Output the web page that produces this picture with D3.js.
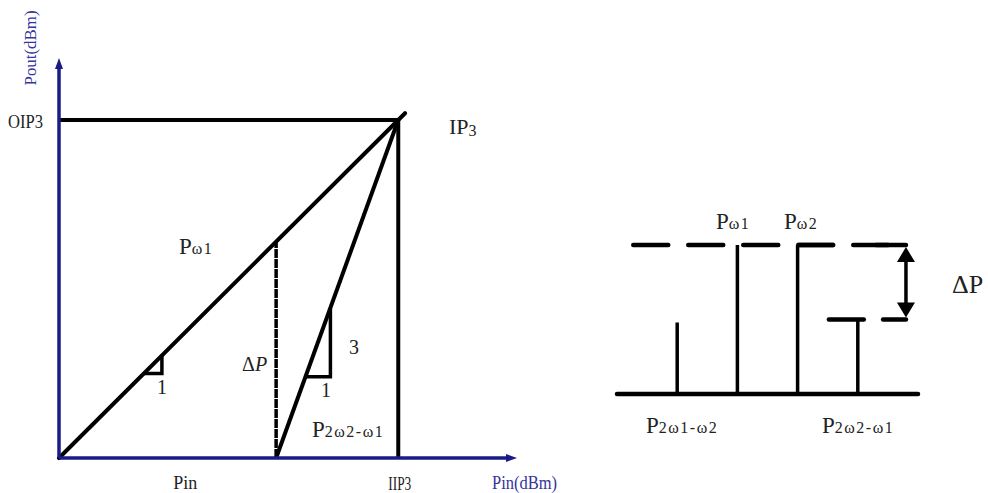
<!DOCTYPE html>
<html>
<head>
<meta charset="utf-8">
<script src="https://cdn.jsdelivr.net/npm/d3@7"></script>
<style>
  html, body { margin: 0; padding: 0; background: #fff; }
  svg { display: block; }
  text { font-family: "Liberation Serif", "Times New Roman", serif; fill: #222; }
</style>
</head>
<body>
<svg id="chart" width="988" height="493"></svg>
<script>
// ---- Transfer characteristic (dBm in / dBm out) ----
const IIP3 = 30;            // input third-order intercept
const OIP3 = 30;            // output third-order intercept
const pinLevel = 19.2;      // operating input level
const fundamental = [{ pin: 0, pout: 0 }, { pin: 30.6, pout: 30.6 }];
const thirdOrder = [{ pin: 19.2, pout: 0 }, { pin: 30, pout: 30 }];
const slope1Tri = [{ pin: 7.5, pout: 7.5 }, { pin: 9.1, pout: 7.5 }, { pin: 9.1, pout: 9.1 }];
const slope3Tri = [{ pin: 21.8, pout: 7.2 }, { pin: 24.0, pout: 7.2 }, { pin: 24.0, pout: 13.3 }];
const axisLabels = ["Pin(dBm)", "Pout(dBm)"];
const tickLabels = ["Pin", "IIP3", "OIP3"];

// ---- Output spectrum ----
const toneNames = ["P2ω1-ω2", "Pω1", "Pω2", "P2ω2-ω1"];
const tonePos = [1, 2, 3, 4];
const toneLevel = [24, 50, 50, 25];
const carrierLevel = 50;
const imLevel = 25;

const svg = d3.select("#chart");
const navy = "#1b1b88";
const labelBlue = "#35359e";

// Left panel scales
const x = d3.scaleLinear().domain([0, 40.5]).range([59, 517]);
const y = d3.scaleLinear().domain([0, 35.5]).range([458, 58]);
const line = d3.line().x(d => x(d.pin)).y(d => y(d.pout));

const left = svg.append("g");

// OIP3 horizontal and IIP3 vertical guides
left.append("line").attr("x1", x(0)).attr("x2", x(IIP3)).attr("y1", y(OIP3)).attr("y2", y(OIP3))
  .attr("stroke", "#000").attr("stroke-width", 4);
left.append("line").attr("x1", x(IIP3)).attr("x2", x(IIP3)).attr("y1", y(0)).attr("y2", y(OIP3))
  .attr("stroke", "#000").attr("stroke-width", 4);

// fundamental and third-order lines
left.append("path").attr("d", line(fundamental)).attr("fill", "none")
  .attr("stroke", "#000").attr("stroke-width", 4).attr("stroke-linecap", "round");
left.append("path").attr("d", line(thirdOrder)).attr("fill", "none")
  .attr("stroke", "#000").attr("stroke-width", 4);

// ΔP guide at the operating input level
left.append("line").attr("x1", x(pinLevel)).attr("x2", x(pinLevel))
  .attr("y1", y(0)).attr("y2", y(pinLevel))
  .attr("stroke", "#000").attr("stroke-width", 3.5).attr("stroke-dasharray", "9 1");

// slope triangles
[slope1Tri, slope3Tri].forEach(t => {
  left.append("path").attr("d", line(t)).attr("fill", "none")
    .attr("stroke", "#000").attr("stroke-width", 3.5);
});

// axes
const yAxis = d3.axisLeft(y).tickValues([]).tickSize(0);
const xAxis = d3.axisBottom(x).tickValues([]).tickSize(0);
const ga = left.append("g").attr("transform", `translate(${x(0)},0)`).call(yAxis);
const gb = left.append("g").attr("transform", `translate(0,${y(0)})`).call(xAxis);
[ga, gb].forEach(g => g.select(".domain").attr("stroke", navy).attr("stroke-width", 3.5));
ga.select(".domain").attr("d", `M0,${y(0)}V${y(35.5) + 8}`);
gb.select(".domain").attr("d", `M${x(0)},0H${x(40.5) - 8}`);
// arrow heads
left.append("path").attr("fill", navy)
  .attr("d", `M${x(0)},${y(35.5)} l-4,11 l8,0 Z`);
left.append("path").attr("fill", navy)
  .attr("d", `M${x(40.5)},${y(0)} l-11,-4 l0,8 Z`);

// axis titles
left.append("text").attr("x", 492).attr("y", 489).attr("font-size", 18)
  .style("fill", labelBlue)
  .attr("textLength", 65).attr("lengthAdjust", "spacingAndGlyphs").text(axisLabels[0]);
left.append("text").attr("transform", "translate(36,48) rotate(-90)")
  .attr("text-anchor", "middle").attr("font-size", 17)
  .attr("textLength", 75).attr("lengthAdjust", "spacingAndGlyphs")
  .style("fill", labelBlue).text(axisLabels[1]);

// tick labels
left.append("text").attr("x", x(pinLevel) - 103).attr("y", 489).attr("font-size", 18).text(tickLabels[0]);
left.append("text").attr("x", x(IIP3) - 10).attr("y", 490).attr("font-size", 18)
  .attr("textLength", 23).attr("lengthAdjust", "spacingAndGlyphs").text(tickLabels[1]);
left.append("text").attr("x", 8).attr("y", 128).attr("font-size", 18)
  .attr("textLength", 35).attr("lengthAdjust", "spacingAndGlyphs").text(tickLabels[2]);

// annotations
function subLabel(g, xx, yy, main, sub, mainSize, subSize, dy) {
  const t = g.append("text").attr("x", xx).attr("y", yy);
  t.append("tspan").attr("font-size", mainSize).text(main);
  t.append("tspan").attr("font-size", subSize).attr("dy", dy || 0)
    .attr("letter-spacing", dy ? 0 : 1.5).text(sub);
  return t;
}
subLabel(left, 449, 134, "IP", "3", 22, 16, 2);
subLabel(left, 179, 254, "P", "ω1", 23, 16, 0);
subLabel(left, 312, 437, "P", "2ω2-ω1", 23, 16, 0);
const dp = left.append("text").attr("x", 242).attr("y", 371).attr("font-size", 20);
dp.append("tspan").text("Δ");
dp.append("tspan").attr("font-style", "italic").text("P");
left.append("text").attr("x", 157).attr("y", 394).attr("font-size", 20).text("1");
left.append("text").attr("x", 321).attr("y", 397).attr("font-size", 20).text("1");
left.append("text").attr("x", 349).attr("y", 354).attr("font-size", 20).text("3");

// ---- Right panel: spectrum ----
const fx = d3.scaleLinear().domain([0, 5]).range([617, 918]);
const fy = d3.scaleLinear().domain([0, 50]).range([394, 245]);
const right = svg.append("g");

// carrier-level dashed reference
right.append("line").attr("x1", fx(0.27)).attr("x2", fx(4.6)).attr("y1", fy(carrierLevel)).attr("y2", fy(carrierLevel))
  .attr("stroke", "#000").attr("stroke-width", 4.5).attr("stroke-linecap", "round")
  .attr("stroke-dasharray", "35 20");
right.append("line").attr("x1", fx(4.3)).attr("x2", fx(4.8)).attr("y1", fy(carrierLevel)).attr("y2", fy(carrierLevel))
  .attr("stroke", "#000").attr("stroke-width", 4.5).attr("stroke-linecap", "round");
right.append("line").attr("x1", fx(3.0)).attr("x2", fx(3.6)).attr("y1", fy(carrierLevel)).attr("y2", fy(carrierLevel))
  .attr("stroke", "#000").attr("stroke-width", 4.5);

// IM level dashes
right.append("line").attr("x1", fx(3.52)).attr("x2", fx(4.1)).attr("y1", fy(imLevel)).attr("y2", fy(imLevel))
  .attr("stroke", "#000").attr("stroke-width", 4.5).attr("stroke-linecap", "round");
right.append("line").attr("x1", fx(4.42)).attr("x2", fx(4.8)).attr("y1", fy(imLevel)).attr("y2", fy(imLevel))
  .attr("stroke", "#000").attr("stroke-width", 4.5).attr("stroke-linecap", "round");

// baseline
right.append("line").attr("x1", fx(0)).attr("x2", fx(5)).attr("y1", fy(0)).attr("y2", fy(0))
  .attr("stroke", "#000").attr("stroke-width", 4.5).attr("stroke-linecap", "round");

// tones
right.selectAll("line.tone").data(tonePos).join("line").attr("class", "tone")
  .attr("x1", d => fx(d)).attr("x2", d => fx(d))
  .attr("y1", fy(0)).attr("y2", (d, i) => fy(toneLevel[i]))
  .attr("stroke", "#000").attr("stroke-width", 3.5);

// ΔP double arrow
const ax = fx(4.8);
right.append("line").attr("x1", ax).attr("x2", ax).attr("y1", fy(carrierLevel) + 12).attr("y2", fy(imLevel) - 12)
  .attr("stroke", "#000").attr("stroke-width", 3.5);
right.append("path").attr("d", `M${ax},${fy(carrierLevel) + 2} l-9,15 l18,0 Z`).attr("fill", "#000");
right.append("path").attr("d", `M${ax},${fy(imLevel) - 2} l-9,-15 l18,0 Z`).attr("fill", "#000");
right.append("text").attr("x", 952).attr("y", 293).attr("font-size", 26).text("ΔP");

// tone labels
subLabel(right, 716, 229, "P", "ω1", 23, 16, 0);
subLabel(right, 784, 229, "P", "ω2", 23, 16, 0);
subLabel(right, 646, 433, "P", "2ω1-ω2", 23, 16, 0);
subLabel(right, 822, 433, "P", "2ω2-ω1", 23, 16, 0);
</script>
</body>
</html>
